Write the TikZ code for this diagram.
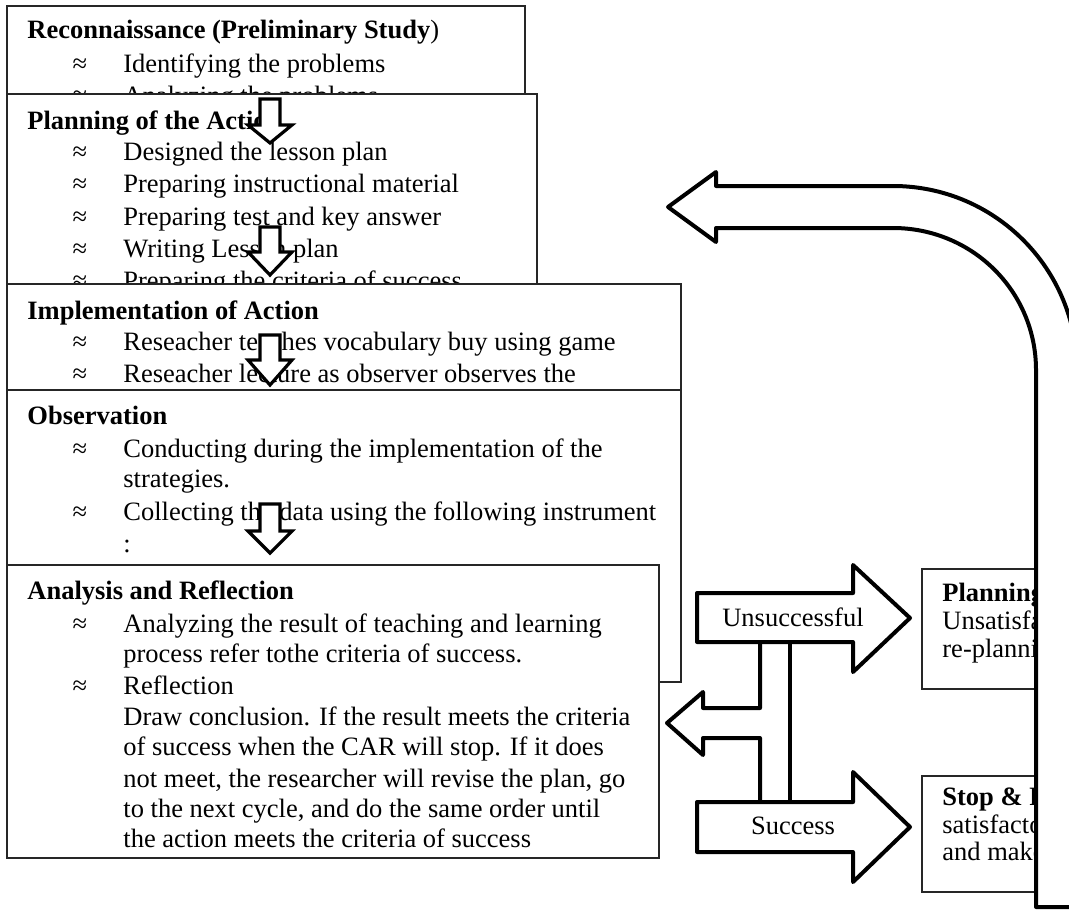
\documentclass[tikz,border=0pt]{standalone}
\usepackage{fontspec}
\setmainfont{Liberation Serif}
\begin{document}
\begin{tikzpicture}[x=0.5pt,y=-0.5pt,
  box/.style={draw=black!85, line width=0.65pt, fill=white, rectangle, inner sep=0pt, outer sep=0pt, anchor=north west},
  txt/.style={anchor=base west, inner sep=0pt, font=\fontsize{13.25pt}{16pt}\selectfont},
  ttl/.style={anchor=base west, inner sep=0pt, font=\fontsize{13.25pt}{16pt}\selectfont\bfseries},
  blt/.style={anchor=base, inner sep=0pt, font=\fontsize{13.25pt}{16pt}\selectfont},
  lbl/.style={anchor=base, inner sep=0pt, font=\fontsize{13.25pt}{16pt}\selectfont},
  blockarrow/.style={draw=black, line width=2pt, fill=white, line join=round},
  blockline/.style={draw=black, line width=2pt, line join=round},
  downarrow/.style={draw=black, line width=1.6pt, fill=white, line join=miter},
]
\newcommand{\bl}[3]{\node[blt] (#1m) at (80,#2) {≈}; \node[txt] (#1) at (123,#2) {#3};}
\useasboundingbox (0,0) rectangle (1069,921);
\clip (0,0) rectangle (1069,921);
\fill[white] (0,0) rectangle (1069,921);

% Box 1
\node[box, minimum width=259pt, minimum height=52pt] (b1) at (7,6) {};
\node[ttl] (b1t) at (27,39) {Reconnaissance (Preliminary Study\textmd{)}};
\bl{b1a}{72}{Identifying the problems}
\bl{b1b}{104}{Analyzing the problems}

% Box 2
\node[box, minimum width=265pt, minimum height=103pt] (b2) at (7,94) {};
\node[ttl] (b2t) at (27,129) {Planning of the Action};
\bl{b2a}{160}{Designed the lesson plan}
\bl{b2b}{192}{Preparing instructional material}
\bl{b2c}{225}{Preparing test and key answer}
\bl{b2d}{257}{Writing Lesson plan}
\bl{b2e}{289}{Preparing the criteria of success}
\draw[downarrow] (260,99) -- (280,99) -- (280,125) -- (292,125) -- (270,143) -- (248,125) -- (260,125) -- cycle;
\draw[downarrow] (260,227) -- (280,227) -- (280,252) -- (292,252) -- (270,275) -- (248,252) -- (260,252) -- cycle;

% Box 3
\node[box, minimum width=337pt, minimum height=58pt] (b3) at (7,284) {};
\node[ttl] (b3t) at (27,319) {Implementation of Action};
\bl{b3a}{350}{Reseacher teaches vocabulary buy using game}
\bl{b3b}{382}{Reseacher lecture as observer observes the}
\draw[downarrow] (260,335) -- (280,335) -- (280,360) -- (292,360) -- (270,385) -- (248,360) -- (260,360) -- cycle;

% Box 4
\node[box, minimum width=337pt, minimum height=146pt] (b4) at (7,390) {};
\node[ttl] (b4t) at (27,424) {Observation};
\bl{b4a}{457}{Conducting during the implementation of the}
\node[txt] (b4a2) at (123,487) {strategies.};
\bl{b4b}{520}{Collecting the data using the following instrument}
\node[txt] (b4b2) at (123,552) {:};
\draw[downarrow] (260,504) -- (280,504) -- (280,531) -- (292,531) -- (270,553) -- (248,531) -- (260,531) -- cycle;

% Box 5
\node[box, minimum width=326pt, minimum height=146.5pt] (b5) at (7,565) {};
\node[ttl] (b5t) at (27,599) {Analysis and Reflection};
\bl{b5a}{632}{Analyzing the result of teaching and learning}
\node[txt] (b5a2) at (123,662) {process refer tothe criteria of success.};
\bl{b5b}{694}{Reflection}
\node[txt] (b5b2) at (123,725) {Draw conclusion. If the result meets the criteria};
\node[txt] (b5b3) at (123,755) {of success when the CAR will stop. If it does};
\node[txt] (b5b4) at (123,787) {not meet, the researcher will revise the plan, go};
\node[txt] (b5b5) at (123,817) {to the next cycle, and do the same order until};
\node[txt] (b5b6) at (123,847) {the action meets the criteria of success};

% Decision arrows
\draw[blockarrow] (697,593) -- (853,593) -- (853,565) -- (910,618) -- (853,672) -- (853,642) -- (697,642) -- cycle;
\draw[blockarrow] (697,802) -- (853,802) -- (853,772) -- (910,827) -- (853,882) -- (853,852) -- (697,852) -- cycle;
\draw[blockline] (760,642) -- (760,708) -- (703,708) -- (703,692) -- (667,723) -- (703,755) -- (703,738) -- (760,738) -- (760,802);
\draw[blockline] (790,642) -- (790,802);
\node[lbl] (uns) at (793,626) {Unsuccessful};
\node[lbl] (suc) at (793,834) {Success};

% Right boxes
\node[box, minimum width=69pt, minimum height=60pt] (rp) at (922,569) {};
\node[ttl] (rpt) at (942,601) {Planning Cycle};
\node[txt] (rpa) at (942,629) {Unsatisfactory};
\node[txt] (rpb) at (942,657) {re-planning};
\node[box, minimum width=69pt, minimum height=58pt] (rs) at (922,776) {};
\node[ttl] (rst) at (942,805) {Stop \& Report};
\node[txt] (rsa) at (942,833) {satisfactory};
\node[txt] (rsb) at (942,860) {and make report};

% Big return arrow
\draw[blockarrow] (1036,907) -- (1036,370) .. controls (1036,291) and (972,228) .. (893,228) -- (716,228) -- (716,242) -- (668,207) -- (716,172) -- (716,186) -- (893,186) .. controls (994.6,186) and (1077,268.4) .. (1077,370) -- (1077,907) -- cycle;
\end{tikzpicture}
\end{document}
